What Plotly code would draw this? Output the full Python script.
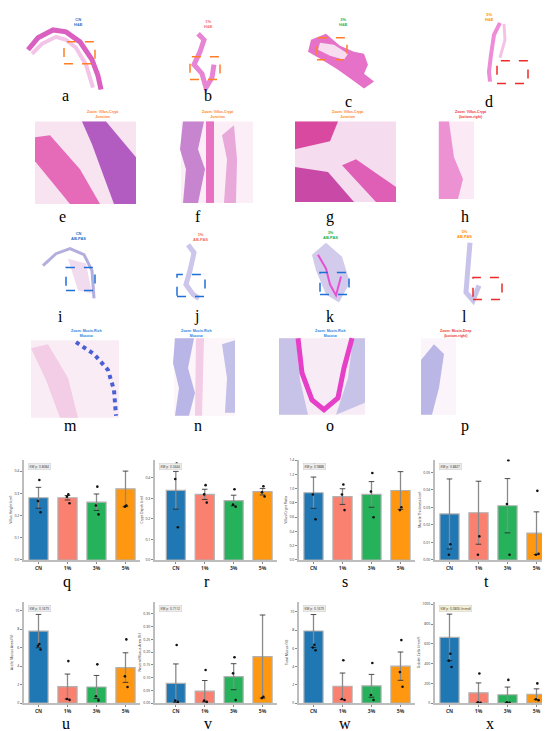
import plotly.graph_objects as go

W, H = 550, 731

groups = ["CN", "1%", "3%", "5%"]
bar_colors = ["#1f77b4", "#fa8070", "#25b25a", "#ff9810"]

villus_mean = [0.28, 0.28, 0.26, 0.32]
villus_sd = [0.047, 0.01, 0.037, 0.08]
villus_pts = [[0.36, 0.265, 0.215], [0.295, 0.285, 0.255], [0.33, 0.245, 0.205], [0.245, 0.24]]

crypt_mean = [0.34, 0.32, 0.29, 0.333]
crypt_sd = [0.092, 0.025, 0.026, 0.016]
crypt_pts = [[0.47, 0.395, 0.16], [0.365, 0.32, 0.28], [0.345, 0.27, 0.26], [0.36, 0.33, 0.31]]

ratio_mean = [0.944, 0.89, 0.92, 0.975]
ratio_sd = [0.22, 0.11, 0.18, 0.265]
ratio_pts = [[1.34, 0.92, 0.57], [1.06, 0.92, 0.70], [1.22, 0.96, 0.60], [0.74, 0.70]]

muscle_mean = [0.0263, 0.027, 0.031, 0.0153]
muscle_sd = [0.02, 0.018, 0.0155, 0.0122]
muscle_pts = [[0.009, 0.003], [0.0135, 0.003], [0.057, 0.032, 0.003], [0.0395, 0.003, 0.0035]]

acidic_mean = [7.8, 1.8, 1.75, 3.85]
acidic_sd = [1.8, 1.35, 1.25, 1.6]
acidic_pts = [[6.4, 6.2, 5.8], [4.55, 0.45, 0.35], [4.2, 0.75, 0.3], [6.9, 2.9, 1.75]]

neutral_mean = [0.078, 0.047, 0.104, 0.183]
neutral_sd = [0.076, 0.042, 0.051, 0.163]
neutral_pts = [[0.228, 0.01, 0.005], [0.13, 0.01, 0.005], [0.18, 0.117, 0.012], [0.025, 0.02]]

total_mean = [7.9, 1.85, 1.9, 4.05]
total_sd = [1.8, 1.45, 1.25, 1.55]
total_pts = [[6.4, 6.1, 5.8], [4.7, 0.45, 0.35], [4.4, 0.9, 0.35], [6.9, 3.4, 1.8]]

goblet_mean = [665, 105, 85, 90]
goblet_sd = [235, 100, 78, 55]
goblet_pts = [[500, 430, 365], [300, 10, 5], [235, 10, 5], [200, 40, 30]]

kw_labels = ["KW p=0.8084", "KW p=0.3444", "KW p=0.9888", "KW p=0.8827",
             "KW p=0.1679", "KW p=0.7112", "KW p=0.1679", "KW p=0.0806 (trend)"]
y_titles = ["Villus Height (cm)", "Crypt Depth (cm)", "Villus/Crypt Ratio", "Muscle Thickness (cm)",
            "Acidic Mucus Area (%)", "Neutral Mucus Area (%)", "Total Mucus (%)", "Goblet Cells (/mm²)"]
panel_letters = list("abcdefghijklmnopqrstuvwx")


def px(x, y):
    return x / W, 1 - y / H


def path(pts, close=False):
    s = "M " + " L ".join(f"{x / W:.4f},{1 - y / H:.4f}" for x, y in pts)
    return s + (" Z" if close else "")


shapes = []
annotations = []


def poly(pts, fill, line=None, width=0):
    shapes.append(dict(type="path", xref="paper", yref="paper", path=path(pts, True),
                       fillcolor=fill, line=dict(color=line or fill, width=width), layer="below"))


def stroke(pts, color, width, dash="solid"):
    shapes.append(dict(type="path", xref="paper", yref="paper", path=path(pts),
                       line=dict(color=color, width=width, dash=dash), layer="below"))


def rect(x0, y0, x1, y1, fill=None, line=None, dash="solid", width=1.5):
    a, b = px(x0, y1)
    c, d = px(x1, y0)
    shapes.append(dict(type="rect", xref="paper", yref="paper", x0=a, y0=b, x1=c, y1=d,
                       fillcolor=fill or "rgba(0,0,0,0)",
                       line=dict(color=line or "rgba(0,0,0,0)", width=width if line else 0, dash=dash),
                       layer="below" if fill else "above"))


def text(x, y, s, size, color, family="Arial", bold=False, yanchor="middle"):
    xx, yy = px(x, y)
    annotations.append(dict(x=xx, y=yy, xref="paper", yref="paper", text=f"<b>{s}</b>" if bold else s,
                            showarrow=False, yanchor=yanchor, borderpad=0,
                            font=dict(size=size, color=color, family=family)))


# ---- histology row 1 (H&E overview) ----
stroke([(20, 40), (30, 28), (45, 20), (58, 22), (72, 32), (84, 50), (90, 66), (93, 80)], "#d95fc0", 5)
stroke([(24, 44), (34, 34), (48, 27), (58, 30), (68, 38), (78, 55), (85, 78)], "#f3c4e8", 4)
stroke([(190, 24), (196, 30), (192, 42), (186, 55), (194, 64), (198, 78), (204, 68), (206, 55)], "#e884d4", 5)
poly([(303, 30), (318, 24), (332, 36), (346, 42), (356, 44), (360, 55), (356, 64), (366, 72),
      (356, 79), (344, 70), (330, 60), (314, 50), (300, 42)], "#e571c8")
poly([(312, 33), (326, 35), (340, 44), (336, 50), (322, 46), (310, 40)], "#f8dcf0")
stroke([(492, 13), (486, 25), (483, 45), (481, 62), (482, 72)], "#ee8cd8", 4)
stroke([(496, 14), (497, 30), (492, 48)], "#f4c2e8", 3)
rect(56, 32, 87, 54, line="#ff7f27", dash="dash")
rect(182, 47, 212, 70, line="#ff7f27", dash="dash")
rect(309, 28, 339, 50, line="#ff7f27", dash="dash")
rect(489, 51, 520, 74, line="#ee2a2a", dash="dash")
for x, y, s, c in [(65, 12, "CN<br>H&E", "#1f6fc8"), (200, 14, "1%<br>H&E", "#f07060"),
                   (335, 12, "3%<br>H&E", "#22b050"), (487, 7, "5%<br>H&E", "#ff9000")]:
    text(x, y, s, 4, c, bold=True)

# ---- histology row 2 (H&E zoom) ----
rect(27, 112, 128, 195, fill="#f8e4f1")
poly([(27, 128), (42, 126), (72, 160), (92, 195), (62, 195), (27, 152)], "#e56ab8")
poly([(74, 112), (98, 112), (128, 148), (128, 195), (106, 195), (96, 168), (84, 135)], "#b25cc2")
rect(173, 112, 245, 194, fill="#fbeef7")
poly([(175, 112), (196, 112), (190, 140), (197, 160), (190, 194), (175, 194), (178, 160), (172, 140)], "#c885cf")
poly([(198, 112), (206, 112), (206, 194), (198, 194)], "#e872c2")
poly([(214, 126), (226, 116), (229, 150), (228, 194), (216, 194), (219, 150)], "#e8a8da")
rect(287, 112, 388, 193, fill="#f6dcef")
poly([(287, 112), (330, 112), (322, 132), (287, 140)], "#d9499f")
poly([(287, 158), (320, 163), (346, 193), (287, 193)], "#c84aa6")
poly([(334, 156), (348, 150), (388, 178), (388, 193), (368, 193)], "#df5fb6")
rect(430, 112, 466, 190, fill="#fbeaf6")
poly([(431, 112), (441, 112), (446, 148), (455, 170), (450, 190), (431, 190)], "#ec92d2")
for x, s, c in [(78, "Zoom: Villus-Crypt<br>Junction", "#ff7f27"), (210, "Zoom: Villus-Crypt<br>Junction", "#ff7f27"),
                (340, "Zoom: Villus-Crypt<br>Junction", "#ff7f27"), (480, "Zoom: Villus-Crypt<br>(bottom-right)", "#ee3333")]:
    text(x, 105, s, 3.5, c, bold=True)

# ---- histology row 3 (AB-PAS overview) ----
stroke([(35, 257), (48, 245), (62, 240), (76, 246), (84, 262), (86, 290)], "#b2aede", 3)
poly([(60, 250), (78, 255), (84, 285), (70, 282)], "#f1dcef")
stroke([(180, 236), (186, 244), (182, 262), (178, 276), (185, 286), (191, 290)], "#cdc6ec", 5)
poly([(304, 246), (318, 234), (334, 248), (342, 274), (331, 294), (318, 286), (308, 262)], "#d2cbec")
stroke([(310, 246), (318, 260), (322, 276), (328, 287), (333, 268)], "#e64fd2", 2)
stroke([(462, 234), (460, 258), (458, 284), (465, 292), (471, 277)], "#c8c3ea", 5)
rect(58, 259, 87, 282, line="#1f6fd6", dash="dash")
rect(169, 266, 197, 288, line="#1f6fd6", dash="dash")
rect(312, 264, 341, 286, line="#1f6fd6", dash="dash")
rect(465, 269, 494, 291, line="#ee2a2a", dash="dash")
for x, y, s, c in [(62, 227, "CN<br>AB-PAS", "#1f6fc8"), (192, 228, "1%<br>AB-PAS", "#f07060"),
                   (322, 226, "3%<br>AB-PAS", "#22b050"), (465, 225, "5%<br>AB-PAS", "#ff9000")]:
    text(x, y, s, 4, c, bold=True)

# ---- histology row 4 (AB-PAS zoom) ----
rect(23, 332, 111, 410, fill="#f9ecf5")
poly([(23, 340), (40, 336), (60, 370), (70, 410), (52, 410), (38, 372)], "#f2cde5")
stroke([(68, 334), (86, 346), (100, 362), (106, 382), (108, 408)], "#4a5fd6", 4, "dot")
rect(166, 330, 227, 408, fill="#fcf5fa")
poly([(167, 330), (186, 330), (180, 360), (187, 385), (181, 408), (167, 408), (171, 380), (165, 355)], "#b9b5e6")
poly([(188, 330), (196, 330), (194, 408), (187, 408)], "#f3cde6")
poly([(214, 336), (227, 332), (227, 405), (217, 405), (219, 370)], "#c2bfe8")
rect(271, 330, 357, 407, fill="#f7ecf5")
poly([(271, 330), (288, 330), (292, 372), (300, 407), (271, 407)], "#c7c2e8")
poly([(345, 330), (357, 330), (357, 395), (328, 407), (340, 370)], "#c7c2e8")
stroke([(290, 330), (294, 365), (304, 392), (316, 402), (330, 390), (336, 360), (344, 330)], "#e640c8", 5)
rect(413, 330, 448, 407, fill="#fbf5fb")
poly([(413, 352), (426, 336), (436, 346), (431, 380), (424, 407), (413, 407)], "#bab6e6")
for x, s, c in [(62, "Zoom: Mucin-Rich<br>Mucosa", "#2b7de0"), (188, "Zoom: Mucin-Rich<br>Mucosa", "#2b7de0"),
                (322, "Zoom: Mucin-Rich<br>Mucosa", "#2b7de0"), (465, "Zoom: Mucin-Deep<br>(bottom-right)", "#ee3333")]:
    text(x, 325, s, 3.5, c, bold=True)

# ---- panel letters ----
letter_xy = [(53, 86), (200, 86), (340, 92), (486, 92),
             (50, 208), (190, 208), (322, 208), (462, 208),
             (49, 308), (188, 308), (322, 308), (460, 308),
             (55, 418), (190, 418), (322, 418), (462, 418)]
for (x, y), s in zip(letter_xy, panel_letters[:16]):
    text(x, y, s, 16, "black", family="Liberation Serif")
chart_letter_xy = [(54, 565), (199, 565), (337, 565), (482, 565),
                   (53, 708), (200, 708), (337, 708), (487, 708)]
for (x, y), s in zip(chart_letter_xy, panel_letters[16:]):
    text(x, y, s, 16, "black", family="Liberation Serif", yanchor="top")

# ---- bar charts q-x ----
charts = [
    (villus_mean, villus_sd, villus_pts, 0.1, ".1f", [0, 0.452]),
    (crypt_mean, crypt_sd, crypt_pts, 0.1, ".1f", [0, 0.49]),
    (ratio_mean, ratio_sd, ratio_pts, 0.2, ".1f", [0, 1.41]),
    (muscle_mean, muscle_sd, muscle_pts, 0.01, ".2f", [0, 0.0574]),
    (acidic_mean, acidic_sd, acidic_pts, 2, "d", [0, 10.97]),
    (neutral_mean, neutral_sd, neutral_pts, 0.05, ".2f", [0, 0.398]),
    (total_mean, total_sd, total_pts, 2, "d", [0, 11.1]),
    (goblet_mean, goblet_sd, goblet_pts, 200, "d", [0, 1025]),
]
col_x = [(16, 132, -0.5), (147, 269, -0.72), (291, 407, -0.5), (427, 543, -0.5)]
row_y = [(452, 553), (595, 697)]
jitter = [0.03, -0.02, 0.07, -0.05]

fig = go.Figure()
layout = {}
for i, (mean, sd, pts, dtick, fmt, yr) in enumerate(charts):
    n = i + 1
    xa = "x" if n == 1 else f"x{n}"
    ya = "y" if n == 1 else f"y{n}"
    cx0, cx1, xlo = col_x[i % 4]
    ry0, ry1 = row_y[i // 4]
    fig.add_trace(go.Bar(
        x=list(range(4)), y=mean, width=0.66, xaxis=xa, yaxis=ya,
        marker=dict(color=bar_colors, line=dict(color="#b0b0b0", width=1.2)),
        error_y=dict(type="data", array=sd, color="#8a8a8a", thickness=1.3, width=0),
        showlegend=False))
    cap_x, cap_y = [], []
    for k in range(4):
        cap_x += [k, k]
        cap_y += [mean[k] + sd[k], max(mean[k] - sd[k], 0)]
    fig.add_trace(go.Scatter(
        x=cap_x, y=cap_y, mode="markers", xaxis=xa, yaxis=ya, showlegend=False,
        marker=dict(symbol="line-ew", size=4, line=dict(color="#222", width=0.8))))
    dot_x, dot_y = [], []
    for k, vals in enumerate(pts):
        for j, v in enumerate(vals):
            dot_x.append(k + jitter[j])
            dot_y.append(v)
    fig.add_trace(go.Scatter(
        x=dot_x, y=dot_y, mode="markers", xaxis=xa, yaxis=ya, showlegend=False,
        marker=dict(color="#111", size=2.6)))
    key = "" if n == 1 else str(n)
    layout[f"xaxis{key}"] = dict(
        domain=[cx0 / W, cx1 / W], range=[xlo, 3.5], anchor=ya,
        tickvals=list(range(4)), ticktext=[f"<b>{g}</b>" for g in groups],
        tickfont=dict(size=5, color="#333"), showline=True, linecolor="#bdbdbd", linewidth=1.5,
        ticks="outside", ticklen=2, tickcolor="#888", showgrid=False, zeroline=False, fixedrange=True)
    layout[f"yaxis{key}"] = dict(
        domain=[1 - ry1 / H, 1 - ry0 / H], range=yr, anchor=xa, dtick=dtick, tickformat=fmt,
        tickfont=dict(size=3.5, color="#333"), showline=True, linecolor="#bdbdbd", linewidth=2,
        ticks="outside", ticklen=2, tickcolor="#888", showgrid=False, zeroline=False,
        title=dict(text=y_titles[i], font=dict(size=3.5, color="#333"), standoff=2))
    bx, by = px(cx0 + 4, ry0 + 3)
    annotations.append(dict(
        x=bx, y=by, xref="paper", yref="paper", xanchor="left", yanchor="top", showarrow=False,
        text=kw_labels[i], font=dict(size=3.2, color="#333"),
        bgcolor="#f2efd6" if i == 7 else "#ececec", bordercolor="#cfcfcf", borderwidth=0.5, borderpad=1))

fig.update_layout(
    width=W, height=H, margin=dict(l=0, r=0, t=0, b=0),
    paper_bgcolor="white", plot_bgcolor="white",
    shapes=shapes, annotations=annotations, **layout)

fig.write_html("out.html")
